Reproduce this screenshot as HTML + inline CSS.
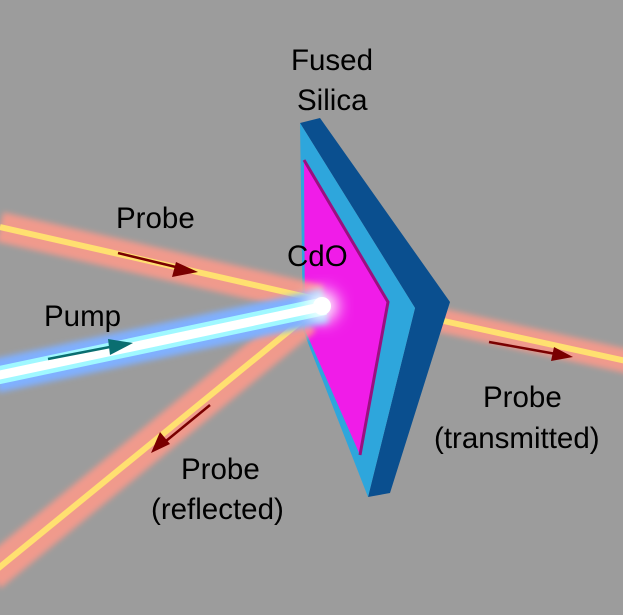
<!DOCTYPE html>
<html><head><style>
body{margin:0;background:#9c9c9c;}
svg{display:block}
text{font-family:"Liberation Sans",sans-serif;font-size:29.5px;fill:#000}
</style></head><body>
<svg width="623" height="615" viewBox="0 0 623 615">
<defs>
<filter id="b1" x="-20%" y="-50%" width="140%" height="200%"><feGaussianBlur stdDeviation="3"/></filter>
<filter id="b2" x="-50%" y="-50%" width="200%" height="200%"><feGaussianBlur stdDeviation="8"/></filter>
</defs>
<rect width="623" height="615" fill="#9c9c9c"/>
<g>
<line x1="430" y1="318" x2="640" y2="364" stroke="#ff9a8a" stroke-width="24" opacity="0.85" filter="url(#b1)"/>
<line x1="430" y1="318" x2="640" y2="364" stroke="#ffe070" stroke-width="6"/>
</g>
<polygon points="300,123 320,118 450,302 390,493 368,497 415,308" fill="#0a4f8f"/>
<polygon points="300,123 415,308 368,497 303,330" fill="#2ea6dc"/>
<polygon points="304,160 388,302 360,455 305,330" fill="#f01ce8"/>
<polyline points="304,160 388,302 360,455" fill="none" stroke="#9a1080" stroke-width="3"/>
<line x1="305" y1="318" x2="-10" y2="575" stroke="#ff9a8a" stroke-width="34" opacity="0.85" filter="url(#b1)"/>
<line x1="305" y1="318" x2="-10" y2="575" stroke="#ffe070" stroke-width="6"/>
<line x1="0" y1="227" x2="320" y2="300" stroke="#ff9a8a" stroke-width="30" opacity="0.85" filter="url(#b1)"/>
<line x1="0" y1="227" x2="320" y2="300" stroke="#ffe070" stroke-width="6"/>
<line x1="-5" y1="376" x2="325" y2="306" stroke="#80b0ff" stroke-width="34" filter="url(#b1)"/>
<line x1="-5" y1="376" x2="325" y2="306" stroke="#a0f8ff" stroke-width="18"/>
<line x1="-5" y1="376" x2="325" y2="306" stroke="#ffffff" stroke-width="9"/>
<circle cx="322" cy="306" r="16" fill="#fff" filter="url(#b2)"/>
<circle cx="322" cy="306" r="9" fill="#fff"/>
<g stroke-width="2.5">
<line x1="118" y1="253" x2="180" y2="268" stroke="#7a0000"/>
<polygon points="198,272 172,277 176,262" fill="#7a0000"/>
<line x1="48" y1="359" x2="115" y2="346" stroke="#0a6e70"/>
<polygon points="133,343 110,355 108,339" fill="#0a6e70"/>
<line x1="489" y1="342" x2="556" y2="354" stroke="#7a0000"/>
<polygon points="573,357 551,361 554,347" fill="#7a0000"/>
<line x1="210" y1="405" x2="166" y2="441" stroke="#7a0000"/>
<polygon points="151,453 160,432 170,444" fill="#7a0000"/>
</g>
<text x="291" y="70">Fused</text>
<text x="297" y="110">Silica</text>
<text x="116" y="228">Probe</text>
<text x="287" y="266">CdO</text>
<text x="44" y="326">Pump</text>
<text x="483" y="407">Probe</text>
<text x="434" y="448">(transmitted)</text>
<text x="181" y="479">Probe</text>
<text x="151" y="519">(reflected)</text>
</svg>
</body></html>
